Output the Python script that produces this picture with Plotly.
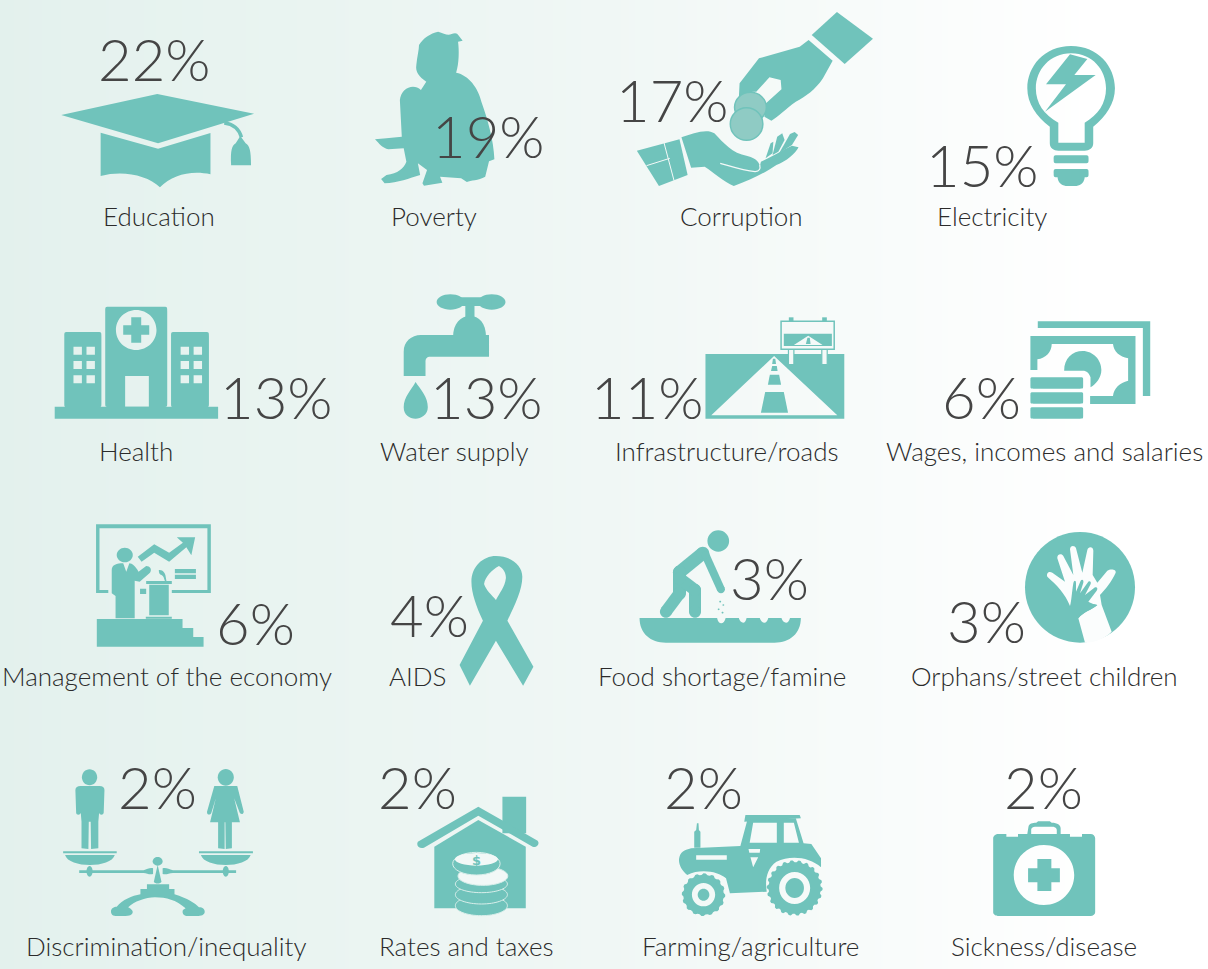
import math
import re
import plotly.graph_objects as go

# ---------- data ----------
CATEGORIES = ["Education", "Poverty", "Corruption", "Electricity",
              "Health", "Water supply", "Infrastructure/roads", "Wages, incomes and salaries",
              "Management of the economy", "AIDS", "Food shortage/famine", "Orphans/street children",
              "Discrimination/inequality", "Rates and taxes", "Farming/agriculture", "Sickness/disease"]
SHARES = [22, 19, 17, 15, 13, 13, 11, 6, 6, 4, 3, 3, 2, 2, 2, 2]

# ---------- text placement ----------
SHARE_X = [154, 488, 672, 982, 276, 486, 647, 981, 255, 429, 769, 986, 157, 417, 703, 1043]
SHARE_Y = [58, 135, 99, 164, 396, 396, 396, 396, 622, 614, 577, 620, 786, 786, 786, 786]
LABEL_X = [159, 434, 741, 992, 136, 454, 727, 1044, 167, 418, 722, 1044, 166, 466, 750, 1044]
LABEL_Y = [216, 216, 216, 216, 451, 451, 451, 451, 676, 676, 676, 676, 946, 946, 946, 946]

TEAL = "#70c3bb"
COIN = "#8fcbc4"
SHARE_COLOR = "#454545"
LABEL_COLOR = "#2b2b2b"
FONT = "Lato"

shapes = []


def tf(path, crop):
    ox, oy, kx, ky = crop
    out, i = [], 0
    for tok in re.findall(r"[MLCZ]|-?\d+\.?\d*", path):
        if tok in "MLCZ":
            out.append(tok)
        else:
            v = float(tok)
            out.append(f"{(ox + v * kx) if i % 2 == 0 else (oy + v * ky):.2f}")
            i += 1
    return " ".join(out)


def add(path, crop, color=TEAL, line=None, width=0):
    shapes.append(dict(type="path", path=tf(path, crop), xref="x", yref="y", fillcolor=color,
                       line=dict(width=width, color=line or color)))


def stroke(path, crop, color=TEAL, width=1.5):
    shapes.append(dict(type="path", path=tf(path, crop), xref="x", yref="y",
                       line=dict(width=width, color=color)))


def ell(cx, cy, rx, ry):
    c = 0.5523
    return (f"M{cx - rx} {cy} C{cx - rx} {cy - c * ry} {cx - c * rx} {cy - ry} {cx} {cy - ry} "
            f"C{cx + c * rx} {cy - ry} {cx + rx} {cy - c * ry} {cx + rx} {cy} "
            f"C{cx + rx} {cy + c * ry} {cx + c * rx} {cy + ry} {cx} {cy + ry} "
            f"C{cx - c * rx} {cy + ry} {cx - rx} {cy + c * ry} {cx - rx} {cy} Z ")


def rect(x0, y0, x1, y1):
    return f"M{x0} {y0} L{x1} {y0} L{x1} {y1} L{x0} {y1} Z "


def rrect(x0, y0, x1, y1, r):
    ry = r * 1.15
    return (f"M{x0 + r} {y0} L{x1 - r} {y0} C{x1} {y0} {x1} {y0} {x1} {y0 + ry} L{x1} {y1 - ry} "
            f"C{x1} {y1} {x1} {y1} {x1 - r} {y1} L{x0 + r} {y1} C{x0} {y1} {x0} {y1} {x0} {y1 - ry} "
            f"L{x0} {y0 + ry} C{x0} {y0} {x0} {y0} {x0 + r} {y0} Z ")


def capsule(p, q, w, crop):
    ox, oy, kx, ky = crop
    a = (ox + p[0] * kx, oy + p[1] * ky)
    b = (ox + q[0] * kx, oy + q[1] * ky)
    L = math.hypot(b[0] - a[0], b[1] - a[1])
    nx, ny = -(b[1] - a[1]) / L * w / 2, (b[0] - a[0]) / L * w / 2
    poly = (f"M{a[0] + nx} {a[1] + ny} L{b[0] + nx} {b[1] + ny} L{b[0] - nx} {b[1] - ny} "
            f"L{a[0] - nx} {a[1] - ny} Z")
    I = (0, 0, 1, 1)
    add(poly, I)
    add(ell(a[0], a[1], w / 2, w / 2), I)
    add(ell(b[0], b[1], w / 2, w / 2), I)


def gear(cx, cy, rx, ry, teeth):
    pts = []
    for i in range(teeth * 4):
        t = 2 * math.pi * i / (teeth * 4)
        f = 1.0 if i % 4 in (0, 1) else 0.93
        pts.append((cx + rx * f * math.cos(t), cy + ry * f * math.sin(t)))
    return "M" + " L".join(f"{x:.1f} {y:.1f}" for x, y in pts) + " Z "


K_L, K_R = 600 / 1568, 608 / 1568
A = (0, 0, K_L, 1 / 3)       # row 1 left
B = (600, 0, K_R, 1 / 3)     # row 1 right
C = (0, 280, K_L, 1 / 3)     # row 2 left
D = (600, 290, K_R, 1 / 3)   # row 2 right
E = (0, 510, K_L, 1 / 3)     # row 3 left
F = (600, 510, K_R, 1 / 3)   # row 3 right
G = (0, 750, K_L, 1 / 3)     # row 4 left
H = (600, 750, K_R, 1 / 3)   # row 4 right
BOLT = (1030, 45, 1 / 3, 1 / 3)
HANDS = (1020, 530, 1 / 3, 1 / 3)

# Education
add("M160 345 L411 282 L664 341 L413 430 Z", A)
add("M263 398 L413 446 L550 399 L550 523 C500 510 450 525 418 562 C385 525 320 510 263 528 Z", A)
stroke("M586 369 C610 372 625 388 631 412", A, width=3.5)
add("M628 408 L642 430 C652 437 656 450 656 496 L604 496 C602 450 606 437 616 430 Z", A)

# Poverty
add("M1145 95 C1160 100 1170 108 1180 102 C1188 98 1195 98 1198 106 L1209 122 L1197 125 C1200 150 1200 190 1192 218 "
    "C1225 225 1250 265 1258 305 C1275 360 1290 420 1292 478 L1278 484 L1268 530 "
    "C1250 542 1230 540 1220 546 L1205 535 L1150 530 L1156 548 L1108 557 L1104 550 L1116 510 "
    "L1092 490 L1098 525 C1070 535 1040 548 1005 550 L996 537 L1010 525 C1040 520 1055 505 1062 485 "
    "L1055 445 L1015 448 C1000 445 990 430 980 418 L1010 415 L1050 410 L1045 300 C1048 265 1080 248 1100 270 "
    "L1114 245 C1095 230 1085 215 1088 195 C1090 170 1095 150 1095 135 C1105 115 1125 100 1145 95 Z", A)

# Corruption
add("M611 36 L704 116 L631 192 L546 105 Z", B)
add("M538 120 L600 182 L575 235 C555 270 530 290 505 305 C480 325 460 350 442 362 L424 350 L428 310 "
    "L468 268 L466 240 L437 232 L403 275 C385 275 370 280 358 295 L360 250 L410 175 L515 140 Z", B)
add(ell(388, 322, 41, 45), B, COIN, TEAL, 1.5)
add(ell(378, 372, 42, 49), B, COIN, TEAL, 1.5)
add("M95 452 L205 418 L226 525 L152 558 Z", B)
stroke("M165 428 L191 542", B, "#f4f9f8", 1)
stroke("M120 497 L180 475", B, "#f4f9f8", 1)
add("M210 412 C240 400 275 385 295 400 C320 430 340 460 380 468 C405 475 412 490 412 500 L415 485 "
    "C445 470 470 450 495 437 L512 442 C505 460 480 485 455 495 C430 515 390 540 345 558 "
    "C320 545 290 515 270 500 L235 503 Z", B)
stroke("M310 490 C340 500 370 512 400 515 C412 515 414 505 412 495", B, "#f4f9f8", 1.2)
add("M427 475 L440 430 L447 425 L445 460 Z", B)
add("M445 465 L457 410 L470 400 L476 420 L460 455 Z", B)
add("M462 460 L490 402 L502 396 L511 405 L495 435 Z", B)

# Electricity
add("M1215 138 C1285 138 1328 200 1328 265 C1328 310 1305 350 1272 380 L1272 430 C1272 445 1262 452 1250 452 "
    "L1182 452 C1170 452 1160 445 1160 430 L1160 380 C1125 350 1102 310 1102 265 C1102 200 1145 138 1215 138 Z "
    "M1215 160 C1270 160 1305 210 1305 265 C1305 310 1285 345 1250 368 L1250 428 L1182 428 L1182 368 "
    "C1145 345 1124 310 1124 265 C1124 210 1160 160 1215 160 Z", B)
add("M120 28 L48 118 L108 118 L45 200 L197 90 L133 90 L172 42 Z", BOLT)
add(rrect(1170, 466, 1260, 490, 12), B)
add(rrect(1170, 507, 1260, 532, 12), B)
add("M1180 530 L1250 530 C1250 550 1235 558 1225 558 L1205 558 C1195 558 1180 550 1180 530 Z", B)

# Health
add("M143 380 L570 380 L570 416 L143 416 Z", C)
win_l = "".join(rect(x, y, x + 22, y + 24) for x in (192, 226) for y in (200, 243, 286))
win_r = "".join(rect(x, y, x + 22, y + 24) for x in (472, 506) for y in (200, 243, 286))
add(rrect(168, 156, 265, 382, 12) + win_l, C)
add(rrect(447, 156, 546, 382, 12) + win_r, C)
add(rrect(275, 80, 437, 381, 12) + ell(356, 150, 53, 60) + rect(327, 288, 389, 380), C)
add("M343 112 L369 112 L369 136 L390 136 L390 164 L369 164 L369 188 L343 188 L343 164 L322 164 L322 136 L343 136 Z", C)

# Water supply
add(ell(1177, 66, 36, 23), C)
add(ell(1285, 66, 36, 23), C)
add(rect(1177, 52, 1285, 78), C)
add(rect(1216, 70, 1240, 115), C)
add("M1184 170 C1184 130 1205 108 1228 108 C1252 108 1270 130 1270 170 Z", C)
add("M1278 165 L1278 230 L1125 230 C1115 230 1112 236 1112 245 L1112 288 L1055 288 L1055 215 "
    "C1055 185 1075 165 1100 165 Z", C)
add("M1086 306 C1100 330 1118 350 1118 382 C1118 405 1100 416 1086 416 C1070 416 1055 405 1055 382 "
    "C1055 350 1075 330 1086 306 Z", C)

# Infrastructure / roads
add(rect(272, 192, 630, 386) + "M449 198 L612 376 L287 376 Z", D)
add("M446 206 L452 206 L454 222 L444 222 Z", D)
add("M444 228 L456 228 L458 243 L441 243 Z", D)
add("M438 254 L462 254 L467 284 L433 284 Z", D)
add("M426 306 L474 306 L485 368 L415 368 Z", D)
add(rect(487, 82, 499, 94), D)
add(rect(573, 82, 585, 94), D)
add(rect(486, 178, 500, 224), D, "#f5f9f8", TEAL, 1.2)
add(rect(572, 178, 586, 224), D, "#f5f9f8", TEAL, 1.2)
add(rect(467, 94, 604, 178), D, "#f5f9f8", TEAL, 1.5)
add(rect(474, 131, 598, 168) + "M537 137 L574 165 L500 165 Z", D)
add("M535 143 L541 143 L543 162 L531 162 Z", D)

# Wages
add("M1129 94 L1419 94 L1419 318 L1400 318 L1400 114 L1129 114 Z", D)
add("M1110 138 L1381 138 L1381 342 L1264 342 L1264 318 L1323 318 C1325 295 1340 278 1362 272 L1362 205 "
    "C1340 200 1325 185 1323 162 L1165 162 C1165 185 1150 205 1128 208 L1128 240 L1110 240 Z", D)
add("M1197 242 C1197 205 1218 183 1245 183 C1272 183 1293 210 1293 240 C1293 262 1280 282 1265 292 "
    "L1265 262 C1262 250 1255 242 1245 242 Z", D)
add(rrect(1110, 262, 1246, 296, 8), D)
add(rrect(1110, 307, 1246, 341, 8), D)
add(rrect(1110, 352, 1246, 386, 8), D)

# Management of the economy
add("M251 43 L551 43 L551 249 L449 249 L449 240 L542 240 L542 55 L260 55 L260 240 L283 240 L283 249 L251 249 Z", E)
add("M360 140 L403 103 L442 128 L478 98 L462 82 L510 82 L500 136 L487 112 L442 155 L403 128 L370 155 Z", E)
add(ell(326, 135, 21, 22), E)
add("M292 180 C292 165 305 160 322 160 L330 185 L338 160 C345 160 355 170 362 185 L382 168 C392 168 398 178 392 188 "
    "L365 215 L352 212 L352 325 L302 325 L302 258 L292 250 Z", E)
add(rect(382, 213, 449, 222) + rect(390, 224, 441, 316) + rect(381, 320, 449, 326), E)
add("M415 180 C425 178 433 190 433 200 L435 213 L431 213 C428 205 428 198 422 195 C417 195 415 188 415 180 Z", E)
add(rect(366, 236, 382, 252) + rect(457, 177, 512, 190) + rect(457, 194, 512, 207), E)
add("M253 327 L477 327 L477 354 L505 354 L505 381 L532 381 L532 410 L253 410 Z", E)

# AIDS
add("M1296 138 C1335 138 1365 165 1365 200 C1365 240 1345 285 1326 332 L1394 470 L1367 527 L1296 392 L1228 527 "
    "L1201 465 L1262 332 C1245 290 1232 250 1232 215 C1232 170 1262 138 1296 138 Z "
    "M1304 168 C1315 175 1323 190 1322 205 C1320 230 1305 250 1296 270 C1285 255 1270 240 1265 222 "
    "C1268 200 1285 180 1304 168 Z", E)

# Food shortage
add(ell(305, 93, 28, 32), F)
for p, q, w in [((265, 130), (205, 187), 13), ((205, 187), (205, 250), 13), ((205, 250), (170, 305), 12),
                ((205, 205), (245, 240), 12), ((245, 240), (245, 305), 12), ((272, 135), (312, 238), 8)]:
    capsule(p, q, w, F)
add("M102 324 L302 324 C305 345 320 345 324 324 L358 324 C362 340 375 345 378 324 L412 324 C416 340 430 345 434 324 "
    "L468 324 C472 340 486 345 490 324 L518 324 C518 370 490 398 450 398 L170 398 C130 398 102 370 102 324 Z", F)
for sx, sy in [(310, 275), (318, 285), (306, 298), (316, 308)]:
    add(ell(sx, sy, 2.5, 2.5), F)

# Orphans
PALE = "#fbfdfd"
add(ell(180, 172, 165, 166), HANDS)
add("M150 228 C135 190 110 165 82 140 C78 128 88 122 97 128 L135 155 L112 85 C110 72 125 68 130 78 L160 135 L150 58 "
    "C150 45 165 45 168 55 L187 128 L202 60 C205 48 220 50 220 62 L218 135 L232 158 L262 122 C272 115 290 118 287 128 "
    "C275 155 258 175 240 195 L245 225 L275 305 C255 325 225 338 195 338 L175 265 C190 245 215 240 232 225 L205 220 "
    "L200 228 L150 228 Z", HANDS, PALE)
add("M150 228 C155 210 155 190 160 160 C162 150 168 150 168 160 L168 185 L182 152 C186 147 192 150 190 158 L180 190 "
    "L205 155 C210 152 214 156 212 162 L195 195 L225 172 C232 170 234 176 230 182 L205 215 C215 222 225 222 232 225 "
    "C215 240 190 245 175 265 L150 228 Z", HANDS)

# Discrimination
add(ell(234, 82, 20, 24), G)
add("M197 120 C197 112 203 108 210 108 L260 108 C268 108 273 112 273 120 L271 188 C270 196 260 196 259 188 L257 215 "
    "L257 295 L238 297 L237 215 L232 215 L231 297 L213 295 L213 215 L211 188 C210 196 199 196 199 188 Z", G)
add(ell(590, 82, 21, 25), G)
add("M560 108 L620 108 L637 185 C636 195 628 193 626 187 L612 145 L627 217 L606 217 L606 295 L590 297 L589 217 "
    "L587 217 L587 297 L570 295 L570 217 L549 217 L564 145 L552 190 C549 196 540 195 541 185 Z", G)
add(rect(165, 304, 305, 310) + "M170 315 L300 315 C295 335 265 345 235 345 C205 345 175 335 170 315 Z", G)
add(rect(520, 304, 661, 310) + "M525 315 L655 315 C650 335 620 345 590 345 C560 345 530 335 525 315 Z", G)
add("M207 361 L375 361 C385 358 392 352 400 355 L400 372 C390 375 385 370 375 369 L207 369 Z", G)
add("M425 355 C435 352 440 358 452 361 L617 361 L617 369 L452 369 C440 370 435 375 425 372 Z", G)
add(ell(234, 364, 8, 16), G)
add(ell(590, 364, 8, 16), G)
add(ell(412, 334, 13, 13), G)
add("M412 345 L422 395 C420 402 404 402 402 395 Z", G)
add("M384 403 L442 403 L442 417 L456 417 L456 433 C490 445 510 460 520 472 C530 472 535 478 535 485 C535 495 525 498 515 498 "
    "L490 498 C480 498 475 490 478 480 L485 475 C460 450 435 442 405 442 C380 442 350 455 335 472 C345 478 350 485 345 492 "
    "C340 498 330 498 320 498 L302 498 C292 498 290 490 290 484 C290 475 298 470 305 470 C320 450 345 437 367 433 L367 417 L384 417 Z", G)

# Rates and taxes
add(rect(1313, 140, 1375, 250), G)
add("M1250 170 L1405 272 C1412 282 1402 295 1392 290 L1250 197 L1108 293 C1098 298 1086 288 1092 275 Z", G)
add("M1250 210 L1374 290 L1374 475 L1135 475 L1135 290 Z", G)
RIM = "#d9efeb"
add(ell(1258, 467, 68, 30), G, TEAL, RIM, 1)
add(ell(1258, 434, 68, 28), G, TEAL, RIM, 1)
add(ell(1258, 402, 68, 26), G, TEAL, RIM, 1)
add(ell(1262, 378, 65, 28), G, "#f2f8f7", RIM, 1)
add(ell(1245, 341, 62, 34), G, TEAL, RIM, 1)
add(ell(1245, 328, 56, 19), G, "#f2f8f7")

# Farming
add("M375 195 L515 195 L518 205 L372 215 Z", H)
add("M205 320 C210 300 225 300 235 295 L362 288 L380 210 L505 205 L525 280 L545 282 L570 325 L570 352 "
    "C540 320 490 315 455 335 C430 355 425 390 430 425 L335 430 L325 385 C305 365 260 355 225 375 C210 360 200 340 205 320 Z "
    "M395 218 L456 218 L456 278 L386 278 Z M474 218 L500 218 L513 278 L474 278 Z "
    + rect(248, 316, 327, 329) + "M383 297 L413 297 L412 308 L385 308 Z M388 322 L408 322 L395 352 Z", H)
add("M243 245 L248 240 L250 220 L254 220 L255 240 L259 245 L259 293 L243 293 Z", H)
add(gear(502, 414, 72, 83, 22) + ell(502, 414, 40, 48), H)
add(ell(502, 414, 24, 30), H)
add(gear(267, 434, 56, 64, 16) + ell(267, 434, 30, 35), H)
add(ell(267, 434, 15, 18), H)

# Sickness
add("M1102 252 L1105 230 C1107 220 1115 218 1125 218 L1130 214 L1160 214 L1165 218 C1180 218 1188 225 1188 235 L1188 252 "
    "L1178 252 L1178 240 C1178 232 1170 230 1165 230 L1125 230 C1115 230 1112 235 1112 240 L1112 252 Z", H)
add("M1028 252 L1048 252 L1048 260 L1078 260 L1078 252 L1212 252 L1212 260 L1243 260 L1243 252 L1265 252 "
    "C1272 252 1277 258 1277 265 L1277 487 C1277 493 1272 498 1265 498 L1026 498 C1020 498 1014 493 1014 487 "
    "L1014 265 C1014 258 1020 252 1028 252 Z " + ell(1145, 375, 78, 90) +
    "M1128 327 L1164 327 L1164 355 L1186 355 L1186 397 L1164 397 L1164 423 L1128 423 L1128 397 L1104 397 L1104 355 L1128 355 Z", H)

# ---------- figure ----------
fig = go.Figure(go.Heatmap(
    x=[-10, 1218], y=[-10, 979], z=[[0, 1], [0, 1]], zsmooth="best", showscale=False, hoverinfo="skip",
    colorscale=[[0, "#e3f1ed"], [0.5, "#f0f7f5"], [0.9, "#ffffff"], [1, "#ffffff"]],
))

annotations = []
for v, x, y in zip(SHARES, SHARE_X, SHARE_Y):
    annotations.append(dict(x=x, y=y, text=f"{v}%", showarrow=False, xanchor="center", yanchor="middle",
                            font=dict(family=FONT, size=58, color=SHARE_COLOR, weight=300)))
for t, x, y in zip(CATEGORIES, LABEL_X, LABEL_Y):
    annotations.append(dict(x=x, y=y, text=t, showarrow=False, xanchor="center", yanchor="middle",
                            font=dict(family=FONT, size=26, color=LABEL_COLOR, weight=300)))
# dollar mark on the top coin of the house icon
annotations.append(dict(x=K_L * 1245, y=750 + 331 / 3, text="<b>$</b>", showarrow=False,
                        font=dict(family="DejaVu Sans", size=13, color=TEAL)))

fig.update_layout(
    width=1208, height=969, margin=dict(l=0, r=0, t=0, b=0), showlegend=False,
    paper_bgcolor="#ffffff", plot_bgcolor="#ffffff",
    xaxis=dict(range=[0, 1208], visible=False, fixedrange=True),
    yaxis=dict(range=[969, 0], visible=False, fixedrange=True),
    shapes=shapes, annotations=annotations,
)
fig.write_html("out.html", config=dict(displayModeBar=False),
               post_script="document.body.style.margin='0';document.documentElement.style.overflow='hidden';")
